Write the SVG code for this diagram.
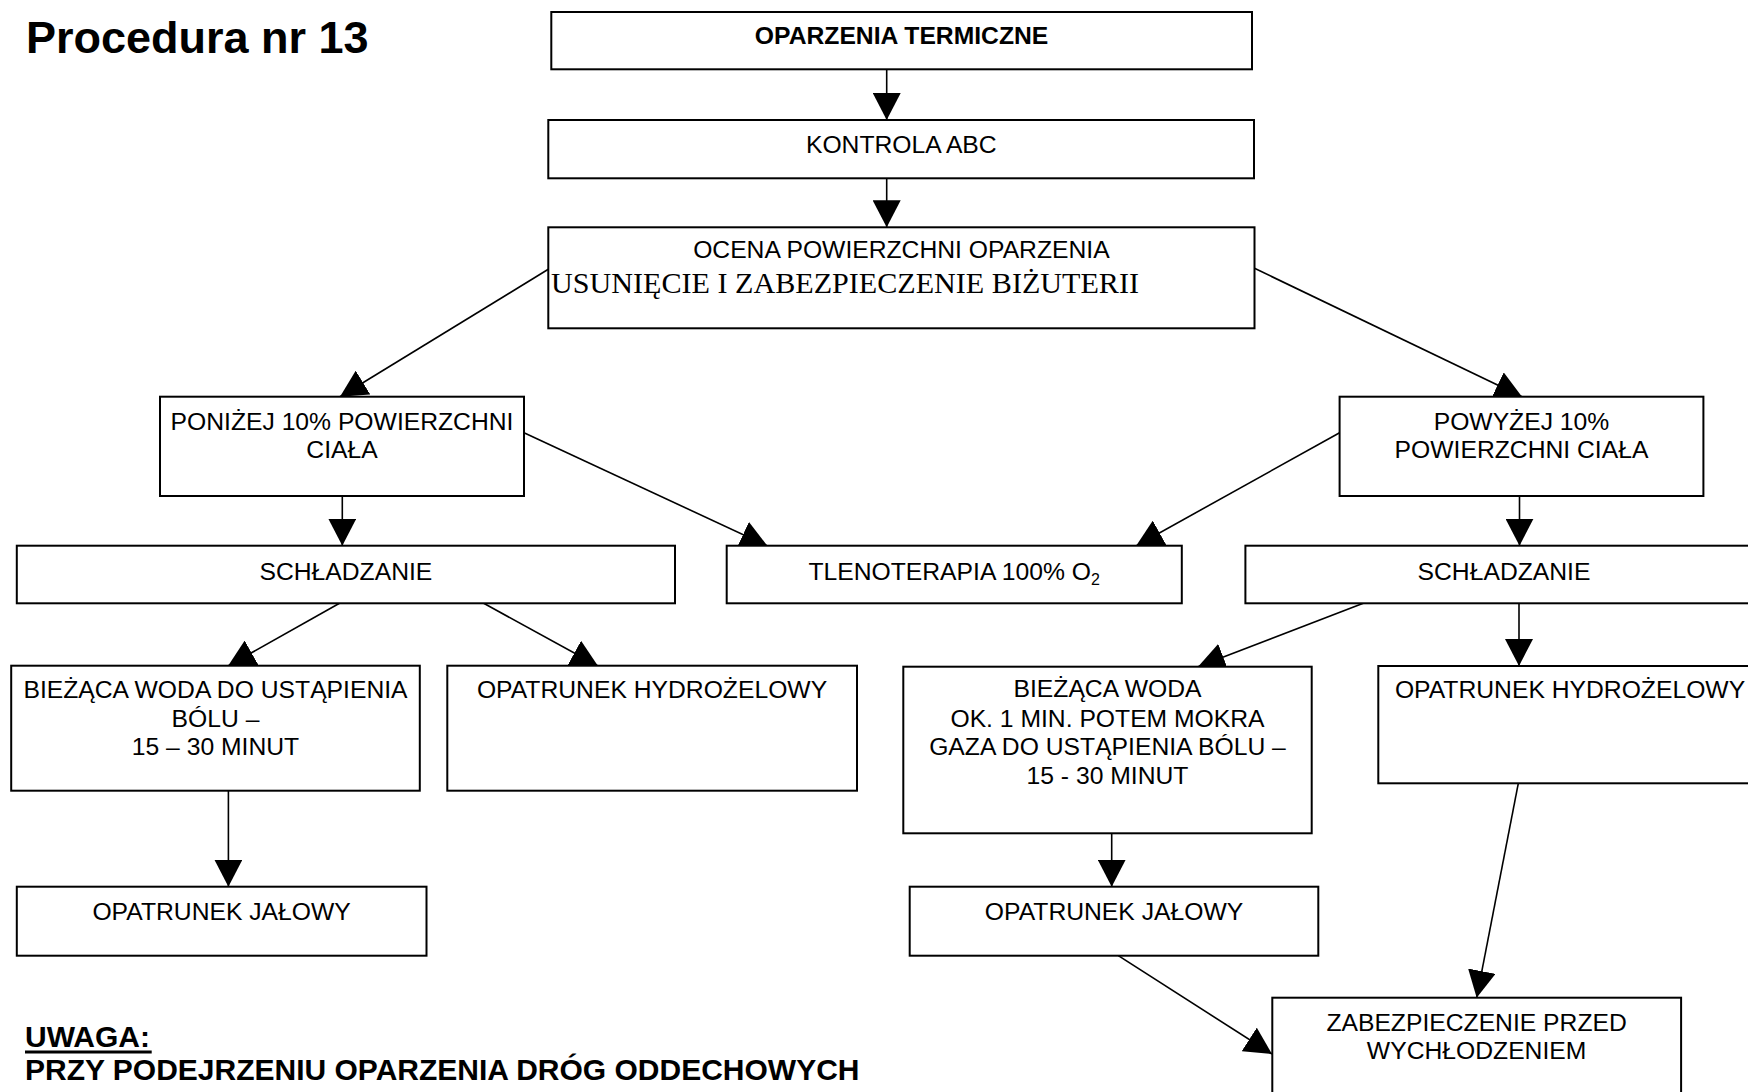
<svg xmlns="http://www.w3.org/2000/svg" width="1748" height="1092" viewBox="0 0 1748 1092">
<style>
.box{fill:#fff;stroke:#000;stroke-width:2}
.t{font-family:"Liberation Sans",Arial,sans-serif;font-size:24.7px;fill:#000;text-anchor:middle}
.b{font-weight:bold}
.c{stroke:#000;stroke-width:1.6;fill:none;marker-end:url(#ah)}
.hd{font-family:"Liberation Sans",Arial,sans-serif;font-weight:bold;fill:#000}
</style>
<defs>
<marker id="ah" viewBox="0 0 27 28" refX="27" refY="14" markerWidth="27" markerHeight="28" markerUnits="userSpaceOnUse" orient="auto">
<path d="M0,0 L27,14 L0,28 Z" fill="#000"/>
</marker>
</defs>
<rect width="1748" height="1092" fill="#fff"/>
<text class="hd" x="26" y="53.3" font-size="45">Procedura nr 13</text>
<g id="connectors">
<line class="c" x1="886.7" y1="69.3" x2="886.7" y2="120"/>
<line class="c" x1="886.7" y1="178.3" x2="886.7" y2="227.3"/>
<line class="c" x1="548.3" y1="269.3" x2="340" y2="396.7"/>
<line class="c" x1="1254.5" y1="268.3" x2="1522" y2="396.7"/>
<line class="c" x1="342.3" y1="496" x2="342.3" y2="545.7"/>
<line class="c" x1="524" y1="432.7" x2="767.5" y2="546"/>
<line class="c" x1="1339.6" y1="432.7" x2="1136" y2="546"/>
<line class="c" x1="1519.5" y1="496" x2="1519.5" y2="545.7"/>
<line class="c" x1="339.5" y1="603.3" x2="228" y2="666"/>
<line class="c" x1="483.7" y1="603.3" x2="598" y2="666"/>
<line class="c" x1="1363.3" y1="603.3" x2="1198" y2="666.7"/>
<line class="c" x1="1519" y1="603.3" x2="1519" y2="666"/>
<line class="c" x1="228.4" y1="790.7" x2="228.4" y2="886.7"/>
<line class="c" x1="1111.7" y1="833.3" x2="1111.7" y2="886.7"/>
<line class="c" x1="1118.3" y1="955.7" x2="1272" y2="1054"/>
<line class="c" x1="1518.3" y1="783.3" x2="1476.7" y2="997.7"/>
</g>
<g id="n-oparzenia">
<rect class="box" x="551.3" y="12" width="700.7" height="57.3"/>
<text class="t b" x="901.6" y="43.5">OPARZENIA TERMICZNE</text>
</g>
<g id="n-kontrola">
<rect class="box" x="548.3" y="120" width="705.7" height="58.3"/>
<text class="t" x="901.3" y="153.3">KONTROLA ABC</text>
</g>
<g id="n-ocena">
<rect class="box" x="548.3" y="227.3" width="706.2" height="101"/>
<text class="t" x="901.4" y="258.3">OCENA POWIERZCHNI OPARZENIA</text>
<text x="551" y="293.3" font-family="'Liberation Serif','Times New Roman',serif" font-size="30" textLength="588" lengthAdjust="spacingAndGlyphs" fill="#000">USUNIĘCIE I ZABEZPIECZENIE BIŻUTERII</text>
</g>
<g id="n-ponizej">
<rect class="box" x="160" y="396.7" width="364" height="99.3"/>
<text class="t" x="342" y="430">PONIŻEJ 10% POWIERZCHNI</text>
<text class="t" x="342" y="458.3">CIAŁA</text>
</g>
<g id="n-powyzej">
<rect class="box" x="1339.6" y="396.7" width="363.8" height="99.3"/>
<text class="t" x="1521.5" y="430">POWYŻEJ 10%</text>
<text class="t" x="1521.5" y="458.3">POWIERZCHNI CIAŁA</text>
</g>
<g id="n-schl-l">
<rect class="box" x="16.8" y="545.7" width="658.2" height="57.6"/>
<text class="t" x="345.9" y="580">SCHŁADZANIE</text>
</g>
<g id="n-tleno">
<rect class="box" x="726.7" y="545.7" width="455.1" height="57.6"/>
<text class="t" x="954.2" y="580">TLENOTERAPIA 100% O<tspan font-size="16" dy="5">2</tspan></text>
</g>
<g id="n-schl-r">
<rect class="box" x="1245.4" y="545.7" width="517.6" height="57.6"/>
<text class="t" x="1504" y="580">SCHŁADZANIE</text>
</g>
<g id="n-biez-l">
<rect class="box" x="11.2" y="665.7" width="408.6" height="125"/>
<text class="t" x="215.5" y="698.3">BIEŻĄCA WODA DO USTĄPIENIA</text>
<text class="t" x="215.5" y="726.7">BÓLU –</text>
<text class="t" x="215.5" y="755">15 – 30 MINUT</text>
</g>
<g id="n-hydro-l">
<rect class="box" x="447.3" y="665.7" width="409.7" height="125"/>
<text class="t" x="652" y="698.3">OPATRUNEK HYDROŻELOWY</text>
</g>
<g id="n-biez-r">
<rect class="box" x="903.3" y="666.7" width="408.4" height="166.6"/>
<text class="t" x="1107.5" y="697">BIEŻĄCA WODA</text>
<text class="t" x="1107.5" y="726.7">OK. 1 MIN. POTEM MOKRA</text>
<text class="t" x="1107.5" y="755">GAZA DO USTĄPIENIA BÓLU –</text>
<text class="t" x="1107.5" y="784">15 - 30 MINUT</text>
</g>
<g id="n-hydro-r">
<rect class="box" x="1378.3" y="666" width="383.7" height="117.3"/>
<text class="t" x="1570" y="697.5">OPATRUNEK HYDROŻELOWY</text>
</g>
<g id="n-jalowy-l">
<rect class="box" x="16.8" y="886.7" width="409.7" height="69"/>
<text class="t" x="221.6" y="920">OPATRUNEK JAŁOWY</text>
</g>
<g id="n-jalowy-r">
<rect class="box" x="909.7" y="886.7" width="408.6" height="69"/>
<text class="t" x="1114" y="920">OPATRUNEK JAŁOWY</text>
</g>
<g id="n-zabezp">
<rect class="box" x="1272.3" y="997.7" width="408.8" height="120"/>
<text class="t" x="1476.6" y="1030.7">ZABEZPIECZENIE PRZED</text>
<text class="t" x="1476.6" y="1059">WYCHŁODZENIEM</text>
</g>
<g id="note">
<text class="hd" x="25" y="1047" font-size="30">UWAGA:</text>
<rect x="25" y="1050.5" width="126.7" height="3" fill="#000"/>
<text class="hd" x="25" y="1080" font-size="30">PRZY PODEJRZENIU OPARZENIA DRÓG ODDECHOWYCH</text>
</g>
</svg>
